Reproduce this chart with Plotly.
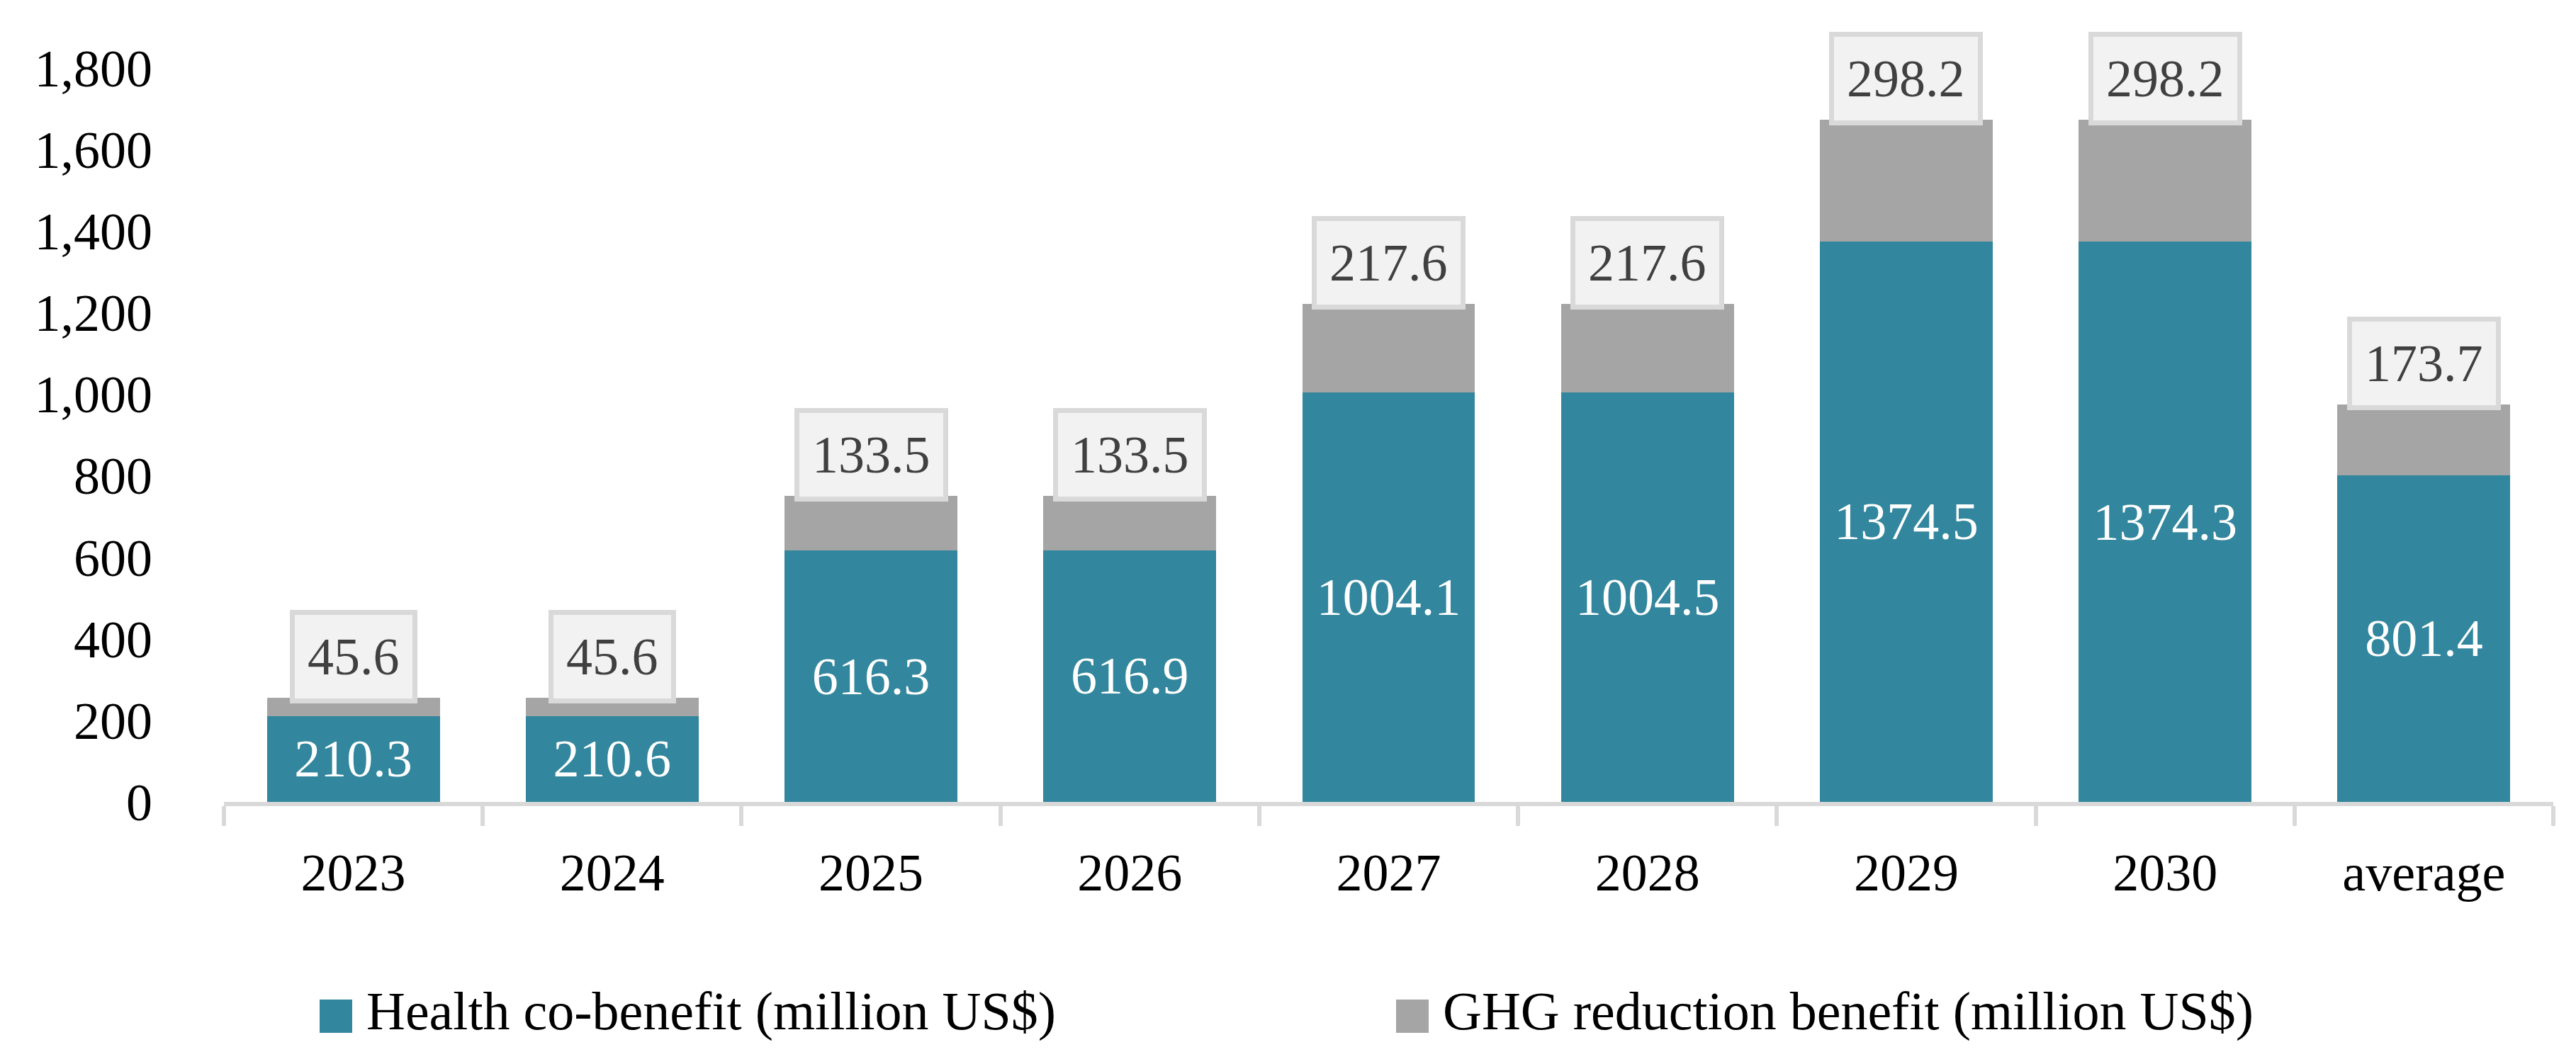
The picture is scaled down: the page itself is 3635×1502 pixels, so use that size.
import plotly.graph_objects as go

categories = ["2023", "2024", "2025", "2026", "2027", "2028", "2029", "2030", "average"]
health = [210.3, 210.6, 616.3, 616.9, 1004.1, 1004.5, 1374.5, 1374.3, 801.4]
ghg = [45.6, 45.6, 133.5, 133.5, 217.6, 217.6, 298.2, 298.2, 173.7]
y_ticks = [0, 200, 400, 600, 800, 1000, 1200, 1400, 1600, 1800]
series_names = ["Health co-benefit (million US$)", "GHG reduction benefit (million US$)"]

TEAL = "#32869D"
GRAY = "#A5A5A5"
FONT = "Palatino Linotype, Book Antiqua, Palatino, Liberation Serif, serif"
FS = 74

W, H = 3635, 1502
ML, MR, MT, MB = 308, 40, 88, 378
PW, PH = W - ML - MR, H - MT - MB

fig = go.Figure()
fig.add_trace(go.Bar(
    x=categories, y=health, name=series_names[0], marker=dict(color=TEAL, line=dict(width=0)),
    texttemplate="%{y:.1f}", textposition="inside", insidetextanchor="middle",
    textangle=0, constraintext="none",
    insidetextfont=dict(family=FONT, size=FS, color="white"), showlegend=False,
))
fig.add_trace(go.Bar(
    x=categories, y=ghg, name=series_names[1], marker=dict(color=GRAY, line=dict(width=0)),
    showlegend=False,
))

totals = [h + g for h, g in zip(health, ghg)]
for i, (t, g) in enumerate(zip(totals, ghg)):
    fig.add_annotation(
        x=i, y=t, xref="x", yref="y", text=f"{g:.1f}", showarrow=False,
        yanchor="bottom", yshift=-8,
        bgcolor="#F2F2F2", bordercolor="#D9D9D9", borderwidth=7, borderpad=18,
        font=dict(family=FONT, size=FS, color="#404040"),
    )

# custom legend (large swatches)
def px_to_paper_x(px):
    return (px - ML) / PW

def px_to_paper_y(py):
    return (H - MB - py) / PH

legend_items = [(series_names[0], TEAL, 443), (series_names[1], GRAY, 1962)]
for name, col, x0 in legend_items:
    fig.add_shape(type="rect", xref="paper", yref="paper",
                  x0=px_to_paper_x(x0), x1=px_to_paper_x(x0 + 46),
                  y0=px_to_paper_y(1450), y1=px_to_paper_y(1403),
                  fillcolor=col, line=dict(width=0))
    fig.add_annotation(xref="paper", yref="paper", x=px_to_paper_x(x0 + 64),
                       y=px_to_paper_y(1420), xanchor="left", yanchor="middle",
                       text=name, showarrow=False,
                       font=dict(family=FONT, size=FS + 2, color="black"))

fig.update_layout(
    width=W, height=H, autosize=False,
    margin=dict(l=ML, r=MR, t=MT, b=MB),
    barmode="stack", bargap=0.332,
    plot_bgcolor="white", paper_bgcolor="white",
    font=dict(family=FONT, size=FS, color="black"),
    showlegend=False,
)
fig.update_xaxes(
    type="category", categoryorder="array", categoryarray=categories,
    range=[-0.5, len(categories) - 0.5], autorange=False,
    showgrid=False, showline=True, linecolor="#D9D9D9", linewidth=6,
    ticks="outside", tickson="boundaries", ticklen=28, tickwidth=6, tickcolor="#D9D9D9",
    tickfont=dict(family=FONT, size=FS, color="black"), ticklabelstandoff=30,
    tickangle=0,
)
fig.update_yaxes(
    range=[0, 1800], autorange=False, tickvals=y_ticks, tickformat=",", showgrid=False,
    showline=False, zeroline=False, ticks="",
    tickfont=dict(family=FONT, size=FS, color="black"), ticklabelstandoff=100,
)

fig.write_html("out.html")
